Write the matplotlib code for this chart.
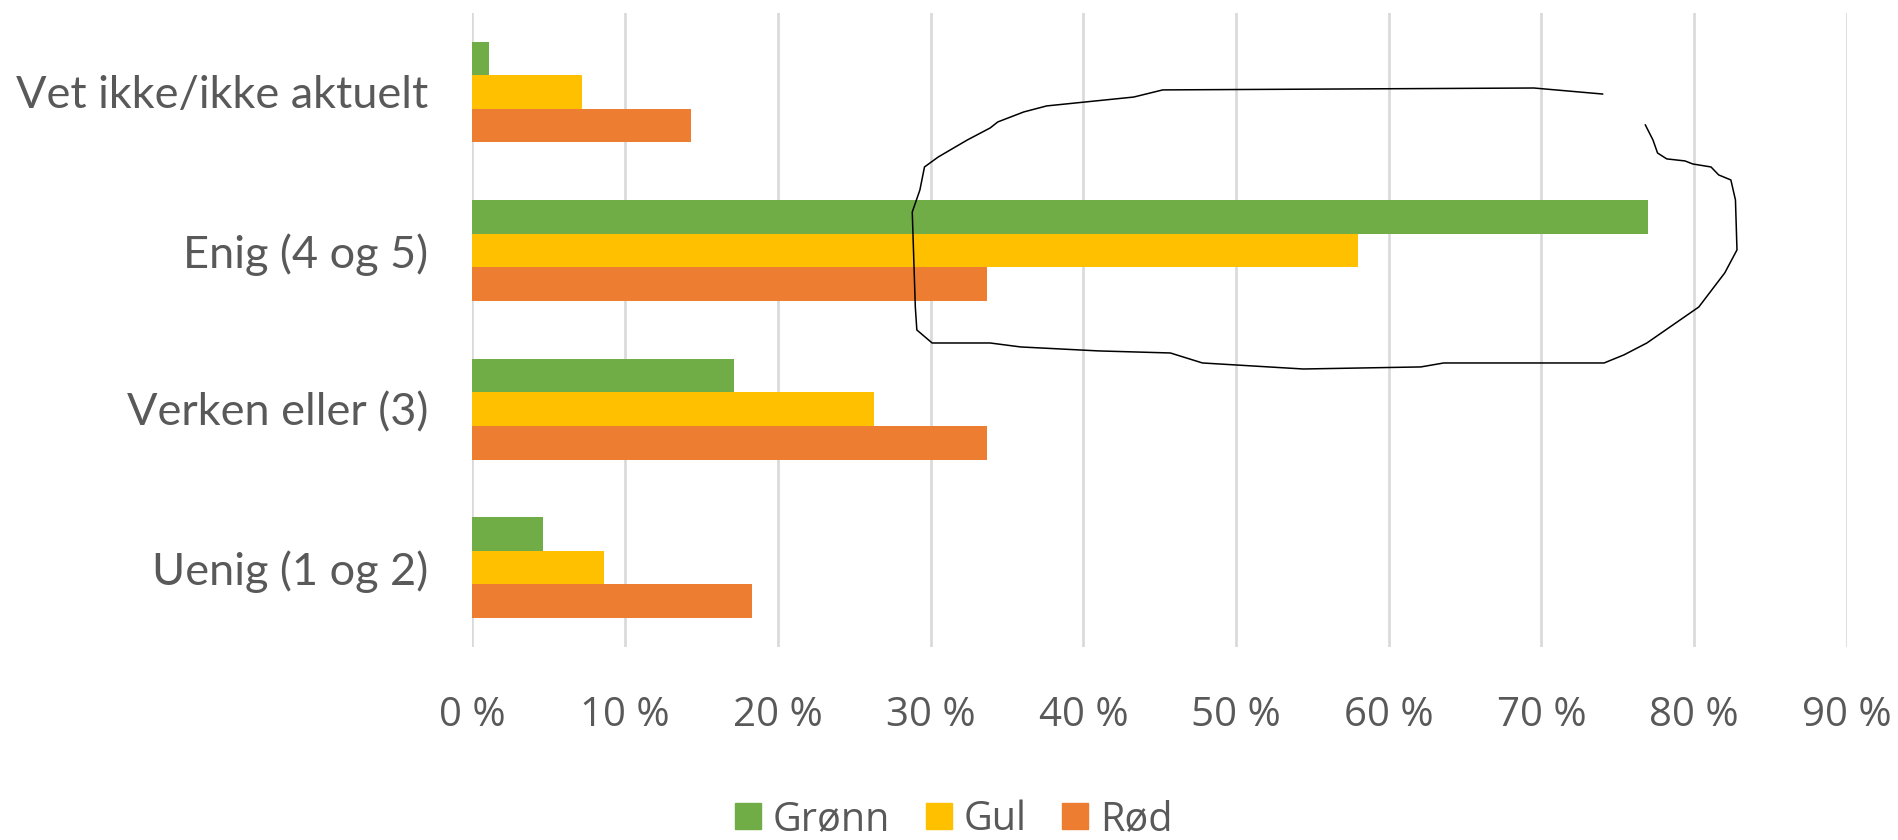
import matplotlib
matplotlib.use('Agg')
import matplotlib.pyplot as plt
from matplotlib.patches import Patch
import numpy as np

# categories bottom -> top, values in percent
categories = ['Uenig (1 og 2)', 'Verken eller (3)', 'Enig (4 og 5)', 'Vet ikke/ikke aktuelt']
gronn = [4.6, 17.1, 77.0, 1.1]
gul = [8.6, 26.3, 58.0, 7.2]
rod = [18.3, 33.7, 33.7, 14.3]
series_names = ['Grønn', 'Gul', 'Rød']
series_colors = ['#70AD47', '#FFC000', '#ED7D31']
xticks = [0, 10, 20, 30, 40, 50, 60, 70, 80, 90]

# hand drawn loop around "Enig", in (percent, category) units
loop_x = [74.0, 69.5, 45.2, 43.3, 37.6, 36.1, 34.4, 33.9, 32.4, 30.5, 29.6, 29.3, 28.8,
          29.0, 29.1, 30.1, 33.9, 35.9, 41.0, 45.7, 47.8, 54.4, 62.1, 63.6, 74.1, 75.4,
          76.9, 80.3, 82.0, 82.8, 82.7, 82.4, 81.6, 81.1, 79.9, 79.4, 78.2, 77.6, 77.3, 76.8]
loop_y = [2.987, 3.025, 3.013, 2.968, 2.912, 2.874, 2.811, 2.773, 2.697, 2.590, 2.527, 2.382, 2.243,
          1.644, 1.499, 1.417, 1.417, 1.392, 1.367, 1.354, 1.291, 1.253, 1.266, 1.291, 1.291, 1.342,
          1.417, 1.644, 1.859, 2.004, 2.319, 2.445, 2.477, 2.527, 2.546, 2.565, 2.578, 2.615, 2.697, 2.792]

text_col = '#595959'
grid_col = '#D9D9D9'

fig = plt.figure(figsize=(18.98, 8.40), dpi=100)
ax = fig.add_axes([0.2489, 0.2298, 0.7242, 0.7551])

y = np.arange(len(categories))
h = 0.212
for vals, off, col in zip([gronn, gul, rod], [h, 0, -h], series_colors):
    ax.barh(y + off, vals, height=h, color=col, zorder=3)

ax.plot(loop_x, loop_y, color='black', lw=1.1, zorder=5, clip_on=False)

ax.set_xlim(0, 90)
ax.set_ylim(-0.5, 3.5)
ax.set_xticks(xticks)
ax.set_xticklabels([f'{t} %' for t in xticks], family='Open Sans', fontsize=29, color=text_col)
ax.set_yticks(y)
ax.set_yticklabels(categories, family='Lato', fontsize=32.5, color=text_col)
ax.tick_params(axis='x', length=0, pad=35)
ax.tick_params(axis='y', length=0, pad=32)
ax.grid(axis='x', color=grid_col, lw=1.9, zorder=0)
for s in ax.spines.values():
    s.set_visible(False)

handles = [Patch(color=c, label=n) for c, n in zip(series_colors, series_names)]
fig.legend(handles=handles, loc='center', bbox_to_anchor=(0.5026, 0.024), ncol=3, frameon=False,
           prop={'family': 'Open Sans', 'size': 28.5}, labelcolor=text_col,
           handlelength=0.65, handleheight=0.65, handletextpad=0.3, columnspacing=0.9)

fig.savefig('out.png', dpi=100)
